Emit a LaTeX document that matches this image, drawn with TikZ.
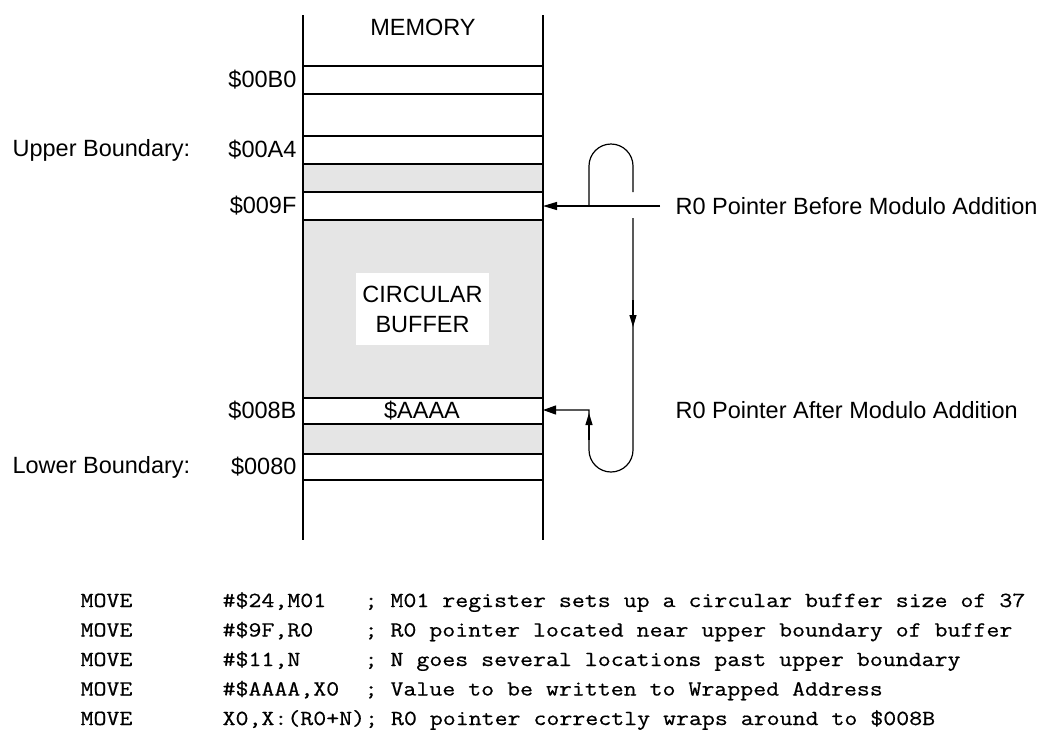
\documentclass[tikz,border=0pt]{standalone}
\usepackage{fontspec}
\setmainfont{Liberation Sans}
\newfontfamily\codefont[FakeStretch=1.17, FakeBold=0.6]{Latin Modern Mono}
\usetikzlibrary{arrows.meta}

\begin{document}
\begin{tikzpicture}[x=1pt,y=-1pt, line width=1.2pt,
  lbl/.style={font=\fontsize{23.5}{30}\selectfont, inner sep=0pt},
  addr/.style={lbl, anchor=east},
  code/.style={font=\codefont\fontsize{21.5}{26}\selectfont, inner sep=0pt, anchor=base west},
  bigtip/.style={-{Triangle[length=14pt,width=8pt]}},
  smalltip/.style={-{Triangle[length=12pt,width=7pt]}},
  cellfill/.style={fill=black!10, draw=none},
]
\useasboundingbox (0,0) rectangle (1045,732);

% memory column: shaded cells, cell borders, side walls
\fill[cellfill] (303,164) rectangle (543,192);
\fill[cellfill] (303,220) rectangle (543,398);
\fill[cellfill] (303,424) rectangle (543,454);
\foreach \y in {66,94,136,164,192,220,398,424,454,480}
  \draw (303,\y) -- (543,\y);
\draw (303,15) -- (303,540);
\draw (543,15) -- (543,540);

\node[lbl] (mem) at (423,27) {MEMORY};

% addresses
\node[addr] (aB0) at (297,80) {\$00B0};
\node[addr] (aA4) at (297,150) {\$00A4};
\node[addr] (a9F) at (297,206) {\$009F};
\node[addr] (a8B) at (297,411) {\$008B};
\node[addr] (a80) at (297,467) {\$0080};
\node[lbl, anchor=west] (ub) at (12,150) {Upper Boundary:};
\node[lbl, anchor=west] (lb) at (12,467) {Lower Boundary:};

\node[lbl, fill=white, minimum width=133pt, minimum height=72pt, align=center]
  (buf) at (422.5,309) {CIRCULAR\\BUFFER};
\node[lbl] (val) at (422,411) {\$AAAA};

% pointer targets on the right wall
\coordinate (p9F) at (543,206);
\coordinate (p8B) at (543,410);

\node[lbl, anchor=west] (before) at (675,206) {R0 Pointer Before Modulo Addition};
\node[lbl, anchor=west] (after) at (675,410) {R0 Pointer After Modulo Addition};

% pointer before the addition
\draw[bigtip] ([xshift=-15pt]before.west) -- (p9F);

% wrap-around loop
\draw (589,206) -- (589,166) arc[start angle=180, end angle=0, radius=22pt] -- (633,192);
\draw[{Triangle[length=13pt,width=9pt]}-] (p8B) -- (589,410) -- (589,450)
  arc[start angle=180, end angle=360, radius=22pt] -- (633,218);
\draw[smalltip] (633,300) -- (633,327);
\draw[smalltip] (589,440) -- (589,413);

% code listing
\node[code] (m1) at (80,607) {MOVE};
\node[code] (m2) at (80,636.5) {MOVE};
\node[code] (m3) at (80,666) {MOVE};
\node[code] (m4) at (80,695.5) {MOVE};
\node[code] (m5) at (80,725) {MOVE};
\node[code] (o1) at (222,607) {\#\$24,M01};
\node[code] (o2) at (222,636.5) {\#\$9F,R0};
\node[code] (o3) at (222,666) {\#\$11,N};
\node[code] (o4) at (222,695.5) {\#\$AAAA,X0};
\node[code] (o5) at (222,725) {X0,X:(R0+N); R0 pointer correctly wraps around to \$008B};
\node[code] (k1) at (364,607) {; M01 register sets up a circular buffer size of 37};
\node[code] (k2) at (364,636.5) {; R0 pointer located near upper boundary of buffer};
\node[code] (k3) at (364,666) {; N goes several locations past upper boundary};
\node[code] (k4) at (364,695.5) {; Value to be written to Wrapped Address};
\end{tikzpicture}
\end{document}
